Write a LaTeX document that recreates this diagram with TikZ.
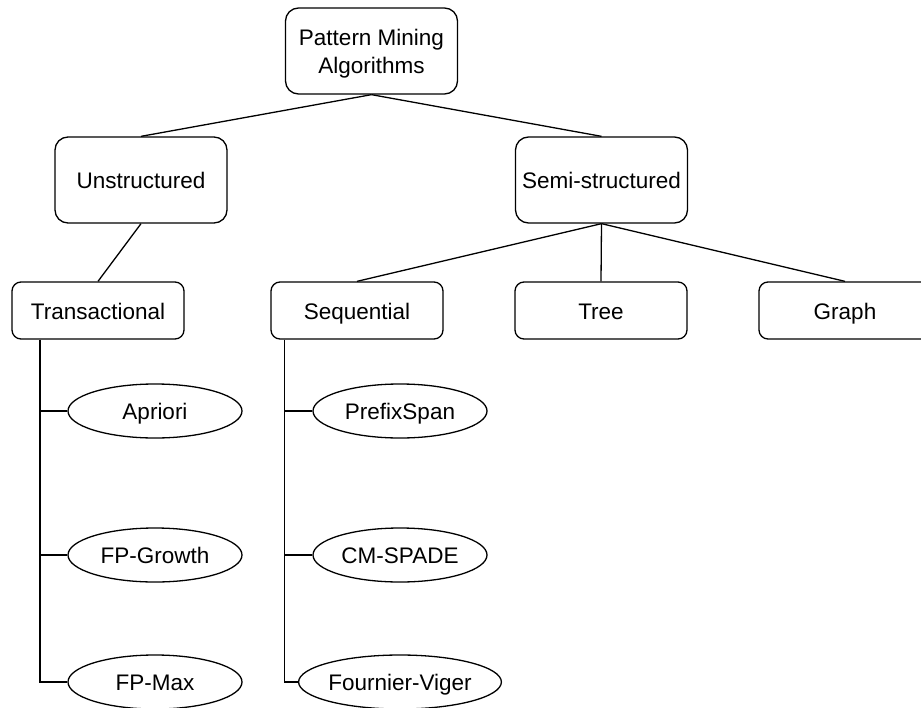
\documentclass[tikz,border=0pt]{standalone}
\usepackage{fontspec}
\setmainfont{Liberation Sans}
\usetikzlibrary{shapes.geometric}
\begin{document}
\begin{tikzpicture}[x=1pt,y=-1pt,
  line width=1.3pt,
  every node/.style={font=\fontsize{22.5}{28}\selectfont, inner sep=0pt},
  oneline/.style={text height=19pt, text depth=1.6pt},
  bigbox/.style={draw, rounded corners=13pt, minimum width=172pt, minimum height=86pt, align=center},
  catbox/.style={draw, oneline, rounded corners=9pt, minimum width=172pt, minimum height=57pt},
  algo/.style={draw, oneline, ellipse, minimum width=174pt, minimum height=54pt}]
  \path[use as bounding box] (0,0) rectangle (921,707);
  \clip (0,0) rectangle (921,707);

  % hierarchy of categories
  \node[bigbox] (root) at (371.5,51) {};
  \node[align=center] (roottext) at ([yshift=-3pt]root.center) {Pattern Mining\\Algorithms};
  \node[bigbox, oneline] (uns)  at (141,180) {Unstructured};
  \node[bigbox, oneline] (semi) at (601.5,180) {Semi-structured};
  \node[catbox] (trans) at (98,310.5) {Transactional};
  \node[catbox] (seq)   at (357,310.5) {Sequential};
  \node[catbox] (tree)  at (601,310.5) {Tree};
  \node[catbox] (graph) at (845,310.5) {Graph};

  % algorithms
  \node[algo] (apriori) at (155,411) {Apriori};
  \node[algo] (fpg)     at (155,555) {FP-Growth};
  \node[algo] (fpmax)   at (155,682) {FP-Max};
  \node[algo] (prefix)  at (400,411) {PrefixSpan};
  \node[algo] (cmspade) at (400,555) {CM-SPADE};
  \node[algo] (fv)      at (400,682) {Fournier-Viger};

  % tree connectors
  \draw (root.south) -- (uns.north);
  \draw (root.south) -- (semi.north);
  \draw (uns.south) -- (trans.north);
  \draw (semi.south) -- (seq.north);
  \draw (semi.south) -- (tree.north);
  \draw (semi.south) -- (graph.north);

  % list connectors
  \coordinate (tb) at ([xshift=28.7pt]trans.south west);
  \coordinate (sb) at ([xshift=14pt]seq.south west);
  \draw (tb) |- (fpmax.west);
  \draw (apriori.west) -- (apriori.west -| tb);
  \draw (fpg.west) -- (fpg.west -| tb);
  \draw (sb) |- (fv.west);
  \draw (prefix.west) -- (prefix.west -| sb);
  \draw (cmspade.west) -- (cmspade.west -| sb);
\end{tikzpicture}
\end{document}
